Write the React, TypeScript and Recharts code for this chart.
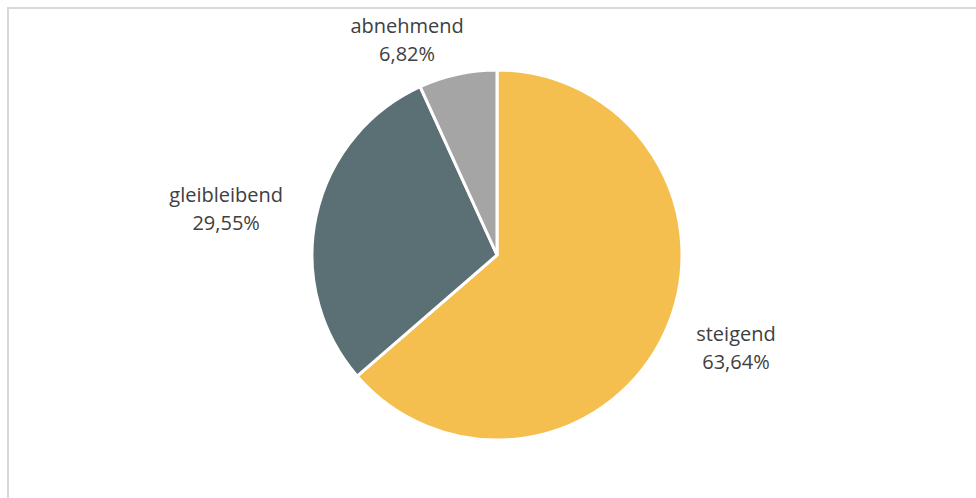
import React from 'react';
import { PieChart, Pie, Cell } from 'recharts';

const categories = ['steigend', 'gleibleibend', 'abnehmend'];
const shares = [63.64, 29.55, 6.82];
const colors = ['#F5BF4F', '#5B7075', '#A5A5A5'];

const data = categories.map((name, i) => ({ name, value: shares[i] }));

const FONT = "'Open Sans', sans-serif";
const FONT_SIZE = 20;
const RAD = Math.PI / 180;

let ctx: CanvasRenderingContext2D | null = null;
const textWidth = (s: string) => {
  if (!ctx) ctx = document.createElement('canvas').getContext('2d');
  if (!ctx) return s.length * FONT_SIZE * 0.5;
  ctx.font = `${FONT_SIZE}px ${FONT}`;
  return ctx.measureText(s).width;
};

const fmt = (v: number) => `${v.toFixed(2).replace('.', ',')}%`;

// excel-ish "best fit" outside labels
const renderLabel = (props: any) => {
  const { cx, cy, midAngle, outerRadius, name, value } = props;
  const dirX = Math.cos(-midAngle * RAD);
  const dirY = Math.sin(-midAngle * RAD);
  const ex = cx + outerRadius * dirX;
  const ey = cy + outerRadius * dirY;
  const pct = fmt(value);
  const halfW = Math.max(textWidth(name), textWidth(pct)) / 2;
  const gap = 34;
  const x = ex + dirX * gap + Math.sign(dirX) * halfW * Math.min(1, Math.abs(dirX) * 3.6);
  const y = ey + dirY * 36;
  return (
    <text
      x={x}
      y={y}
      fill="#404040"
      fontFamily={FONT}
      fontSize={FONT_SIZE}
      textAnchor="middle"
      dominantBaseline="central"
    >
      <tspan x={x} dy={-14}>{name}</tspan>
      <tspan x={x} dy={28}>{pct}</tspan>
    </text>
  );
};

export default function App() {
  return (
    <div style={{ position: 'fixed', left: 0, top: 0, width: 976, height: 498, overflow: 'hidden', background: '#fff' }}>
      <div
        style={{
          position: 'absolute',
          left: 7,
          top: 7,
          right: 0,
          bottom: 0,
          borderTop: '2px solid #d9d9d9',
          borderLeft: '2px solid #d9d9d9',
        }}
      />
      <div style={{ position: 'absolute', left: 0, top: 0 }}>
        <PieChart width={976} height={498} margin={{ top: 0, right: 0, bottom: 0, left: 0 }}>
          <Pie
            data={data}
            dataKey="value"
            nameKey="name"
            cx={497}
            cy={255}
            outerRadius={185}
            startAngle={90}
            endAngle={-270}
            stroke="#ffffff"
            strokeWidth={3}
            label={renderLabel}
            labelLine={false}
            isAnimationActive={false}
          >
            {data.map((d, i) => (
              <Cell key={d.name} fill={colors[i]} />
            ))}
          </Pie>
        </PieChart>
      </div>
    </div>
  );
}
